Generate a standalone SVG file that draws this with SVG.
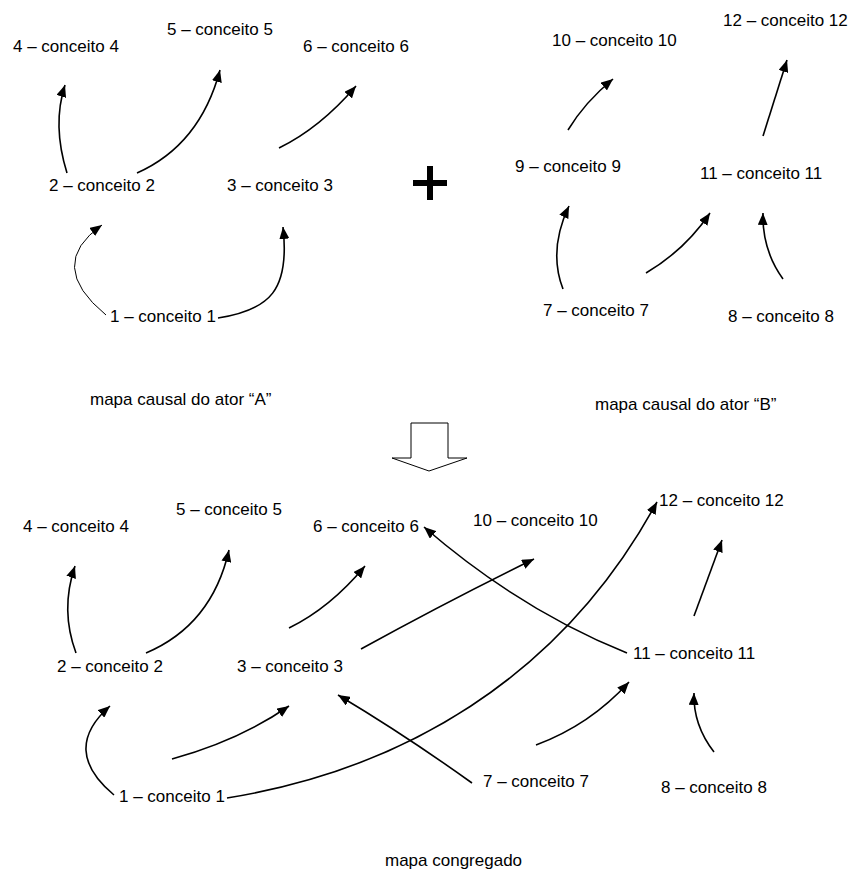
<svg xmlns="http://www.w3.org/2000/svg" width="849" height="871" viewBox="0 0 849 871">
<style>
text{font-family:"Liberation Sans",Arial,sans-serif;font-size:17px;fill:#000}
.c{fill:none;stroke:#000;stroke-width:1.6;marker-end:url(#ah)}
.thin{stroke-width:1}
</style>
<defs>
<marker id="ah" viewBox="0 0 12 10" refX="12" refY="5" markerWidth="12" markerHeight="10" markerUnits="userSpaceOnUse" orient="auto">
<path d="M0,0 L12,5 L0,10 z" fill="#000"/>
</marker>
</defs>
<rect width="849" height="871" fill="#fff"/>
<g id="connectors">
<path class="c" d="M67,173 Q52,125 65,85"/>
<path class="c" d="M137,173 Q200,145 220,70"/>
<path class="c" d="M279,148 Q320,128 356,86"/>
<path class="c thin" d="M106,315 Q45,265 102,225"/>
<path class="c" d="M218,318 C270,310 290,290 283,227"/>
<path class="c" d="M568,130 Q585,102 613,79"/>
<path class="c" d="M763,136 L787,60"/>
<path class="c" d="M563,289 Q548,250 569,206"/>
<path class="c" d="M646,273 Q685,250 710,213"/>
<path class="c" d="M783,279 Q762,250 763,213"/>
<path class="c" d="M76,653 Q60,610 75,566"/>
<path class="c" d="M146,653 Q212,625 229,550"/>
<path class="c" d="M289,628 Q330,608 365,566"/>
<path class="c" d="M361,649 Q450,600 534,559"/>
<path class="c" d="M114,795 Q60,750 110,706"/>
<path class="c" d="M172,759 Q240,740 289,706"/>
<path class="c" d="M227,798 C400,770 560,680 657,502"/>
<path class="c" d="M472,783 Q405,735 338,695"/>
<path class="c" d="M627,653 Q520,610 424,527"/>
<path class="c" d="M694,616 L722,540"/>
<path class="c" d="M536,745 Q590,725 629,682"/>
<path class="c" d="M714,752 Q693,725 694,693"/>
</g>
<g id="mapA">
<g id="a4"><text x="13" y="52">4 – conceito 4</text></g>
<g id="a5"><text x="167" y="35">5 – conceito 5</text></g>
<g id="a6"><text x="303" y="52">6 – conceito 6</text></g>
<g id="a2"><text x="49" y="191">2 – conceito 2</text></g>
<g id="a3"><text x="227" y="191">3 – conceito 3</text></g>
<g id="a1"><text x="110" y="322">1 – conceito 1</text></g>
</g>
<g id="mapB">
<g id="b10"><text x="552" y="46">10 – conceito 10</text></g>
<g id="b12"><text x="723" y="26">12 – conceito 12</text></g>
<g id="b9"><text x="515" y="172">9 – conceito 9</text></g>
<g id="b11"><text x="700" y="179">11 – conceito 11</text></g>
<g id="b7"><text x="543" y="316">7 – conceito 7</text></g>
<g id="b8"><text x="728" y="322">8 – conceito 8</text></g>
</g>
<g id="plus">
<rect x="413" y="180" width="34" height="6" fill="#000"/>
<rect x="427" y="166" width="6" height="34" fill="#000"/>
</g>
<g id="labelA"><text x="90" y="405">mapa causal do ator “A”</text></g>
<g id="labelB"><text x="595" y="410">mapa causal do ator “B”</text></g>
<g id="downArrow">
<polygon points="411,423 448,423 448,458 467,458 429,471 392,458 411,458" fill="#fff" stroke="#000" stroke-width="1"/>
</g>
<g id="mapC">
<g id="c4"><text x="23" y="532">4 – conceito 4</text></g>
<g id="c5"><text x="176" y="515">5 – conceito 5</text></g>
<g id="c6"><text x="313" y="532">6 – conceito 6</text></g>
<g id="c2"><text x="57" y="672">2 – conceito 2</text></g>
<g id="c3"><text x="237" y="672">3 – conceito 3</text></g>
<g id="c1"><text x="119" y="802">1 – conceito 1</text></g>
<g id="c10"><text x="473" y="526">10 – conceito 10</text></g>
<g id="c12"><text x="659" y="506">12 – conceito 12</text></g>
<g id="c11"><text x="633" y="659">11 – conceito 11</text></g>
<g id="c7"><text x="483" y="787">7 – conceito 7</text></g>
<g id="c8"><text x="661" y="793">8 – conceito 8</text></g>
</g>
<g id="labelC"><text x="385" y="866">mapa congregado</text></g>
</svg>
